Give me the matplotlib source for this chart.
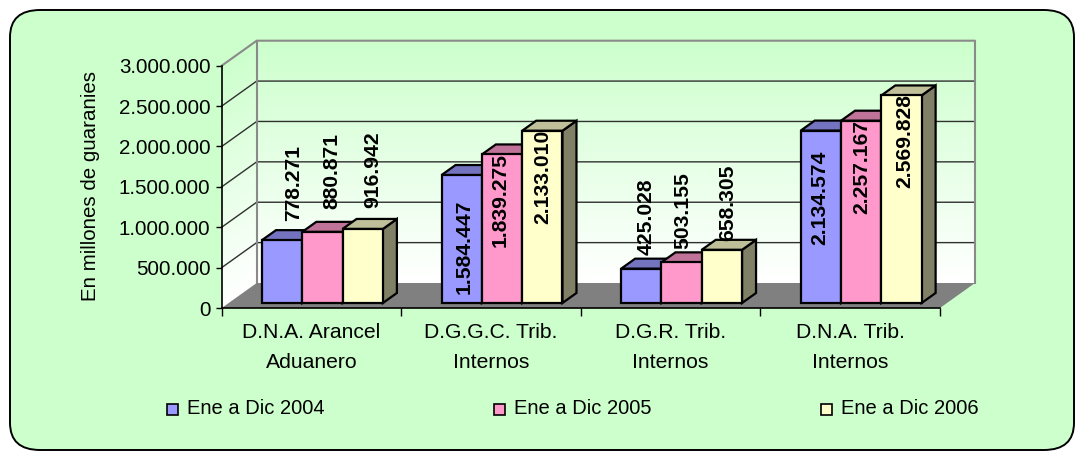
import numpy as np
import matplotlib
matplotlib.use("Agg")
import matplotlib.pyplot as plt
from matplotlib.colors import LinearSegmentedColormap, to_rgb
from matplotlib.patches import FancyBboxPatch, Polygon, Rectangle

categories = ["D.N.A. Arancel\nAduanero", "D.G.G.C. Trib.\nInternos",
              "D.G.R. Trib.\nInternos", "D.N.A. Trib.\nInternos"]
series_names = ["Ene a Dic 2004", "Ene a Dic 2005", "Ene a Dic 2006"]
values_2004 = [778271, 1584447, 425028, 2134574]
values_2005 = [880871, 1839275, 503155, 2257167]
values_2006 = [916942, 2133010, 658305, 2569828]
y_ticks = [0, 500000, 1000000, 1500000, 2000000, 2500000, 3000000]
colors = ["#9999FF", "#FF99CC", "#FFFFCC"]

# hand placed value labels: offset in px from front centre / top of each bar
label_dx = [[11, 2, 5, -1.5], [9, -1.5, 1, 1], [10, 0.7, 5.5, 3.5]]
label_dy = [[57.5, -72, 52, -67], [61, -46, 52, -46], [59, -46, 47.4, -46]]

W, H = 1076, 451
plt.rcParams["font.family"] = ["Liberation Sans", "DejaVu Sans"]


def px(x, y):
    return x / W, 1 - y / H


def fmt(v):
    return f"{v:,}".replace(",", ".")


def shade(c, f):
    return tuple(f * a for a in to_rgb(c))


fig = plt.figure(figsize=(W / 100, H / 100), dpi=100, facecolor="white")
fig.add_artist(FancyBboxPatch(px(10, 450), 1064 / W, 440 / H,
                              boxstyle="round,pad=0,rounding_size=0.028",
                              mutation_aspect=W / H * 0.9,
                              transform=fig.transFigure,
                              fc="#CCFFCC", ec="black", lw=1.4, zorder=-1))

left, right, top, bottom = 221.7, 940, 65.7, 308
ax = fig.add_axes([left / W, 1 - bottom / H, (right - left) / W, (bottom - top) / H])
ax.patch.set_alpha(0)
ax.set_xlim(0, 4)
ax.set_ylim(0, 3000000)

x_px = (right - left) / 4
y_px = (bottom - top) / 3000000
dx = 35 / x_px          # total depth of the chart box
dy = 25 / y_px
bar_w = 40.3 / x_px
bar_x0 = 40.3 / x_px
base = 5 / y_px
side_x = 14 / x_px
side_y = 10 / y_px

# walls
cmap = LinearSegmentedColormap.from_list("wall", ["white", "#CCFFCC"])
t = np.linspace(0, 1, 120)
shade_vals = (t[:-1] + t[1:]) / 2
xs = np.array([dx, 4 + dx])
X, Y = np.meshgrid(xs, t * 3000000 + dy)
ax.pcolormesh(X, Y, shade_vals[:, None], cmap=cmap, vmin=0, vmax=1, clip_on=False, zorder=1)
xs = np.array([0, dx])
X = np.tile(xs, (len(t), 1))
Y = np.column_stack([t * 3000000, t * 3000000 + dy])
ax.pcolormesh(X, Y, shade_vals[:, None], cmap=cmap, vmin=0, vmax=1, clip_on=False, zorder=1)

# grid on the walls
for v in y_ticks[1:-1]:
    ax.plot([0, dx, 4 + dx], [v, v + dy, v + dy], color="#303030", lw=1, clip_on=False, zorder=2)
ax.plot([0, dx, 4 + dx, 4 + dx], [3000000, 3000000 + dy, 3000000 + dy, dy],
        color="#8A8A8A", lw=1.5, clip_on=False, zorder=2)
ax.plot([dx, dx], [dy, 3000000 + dy], color="#8A8A8A", lw=1.5, clip_on=False, zorder=2)

# floor
ax.add_patch(Polygon([(0, 0), (4, 0), (4 + dx, dy), (dx, dy)], fc="#808080", ec="none",
                     clip_on=False, zorder=3))

# bars, left to right so that each front hides the previous side
z = 4
all_series = [values_2004, values_2005, values_2006]
for i in range(len(categories)):
    for k, vals in enumerate(all_series):
        x0 = i + bar_x0 + k * bar_w
        x1 = x0 + bar_w
        y1 = base + vals[i]
        kw = dict(ec="black", lw=1.6, joinstyle="miter", clip_on=False, zorder=z)
        ax.add_patch(Polygon([(x1, base), (x1 + side_x, base + side_y),
                              (x1 + side_x, y1 + side_y), (x1, y1)],
                             fc=shade(colors[k], 0.5), **kw))
        ax.add_patch(Polygon([(x0, y1), (x0 + side_x, y1 + side_y),
                              (x1 + side_x, y1 + side_y), (x1, y1)],
                             fc=shade(colors[k], 0.75), **kw))
        ax.add_patch(Rectangle((x0, base), bar_w, vals[i], fc=colors[k], **kw))
        z += 1

for i in range(len(categories)):
    for k, vals in enumerate(all_series):
        xc = i + bar_x0 + (k + 0.5) * bar_w
        ax.annotate(fmt(vals[i]), (xc, base + vals[i]),
                    xytext=(label_dx[k][i] * 0.72, label_dy[k][i] * 0.72),
                    textcoords="offset points", rotation=90, ha="center", va="center",
                    fontsize=15.2, fontweight="bold", color="black", zorder=50,
                    annotation_clip=False)

# axes
for s in ["top", "right"]:
    ax.spines[s].set_visible(False)
for s in ["left", "bottom"]:
    ax.spines[s].set_linewidth(1.2)
    ax.spines[s].set_zorder(30)
ax.set_yticks(y_ticks)
ax.set_yticklabels([fmt(v) for v in y_ticks], fontsize=14.8)
ax.tick_params(axis="y", length=4, width=1, pad=4)
ax.set_xticks(range(5))
ax.set_xticklabels([])
ax.tick_params(axis="x", which="major", length=6, width=1)
ax.set_xticks(np.arange(4) + 0.5, minor=True)
ax.set_xticklabels(categories, minor=True, fontsize=15.2, linespacing=1.72)
ax.tick_params(axis="x", which="minor", length=0, pad=11)

fig.text(*px(90, 186), "En millones de guaranies", rotation=90, ha="center", va="center",
         fontsize=14.8)

# legend
for name, c, mx in zip(series_names, colors, [167, 494, 821]):
    x, y = px(mx, 415)
    fig.add_artist(Rectangle((x, y), 11 / W, 11 / H, transform=fig.transFigure,
                             fc=c, ec="black", lw=1.2))
    tx, ty = px(mx + 20, 409)
    fig.text(tx, ty, name, ha="left", va="center", fontsize=14.5)

fig.savefig("out.png", dpi=100)
plt.close(fig)
